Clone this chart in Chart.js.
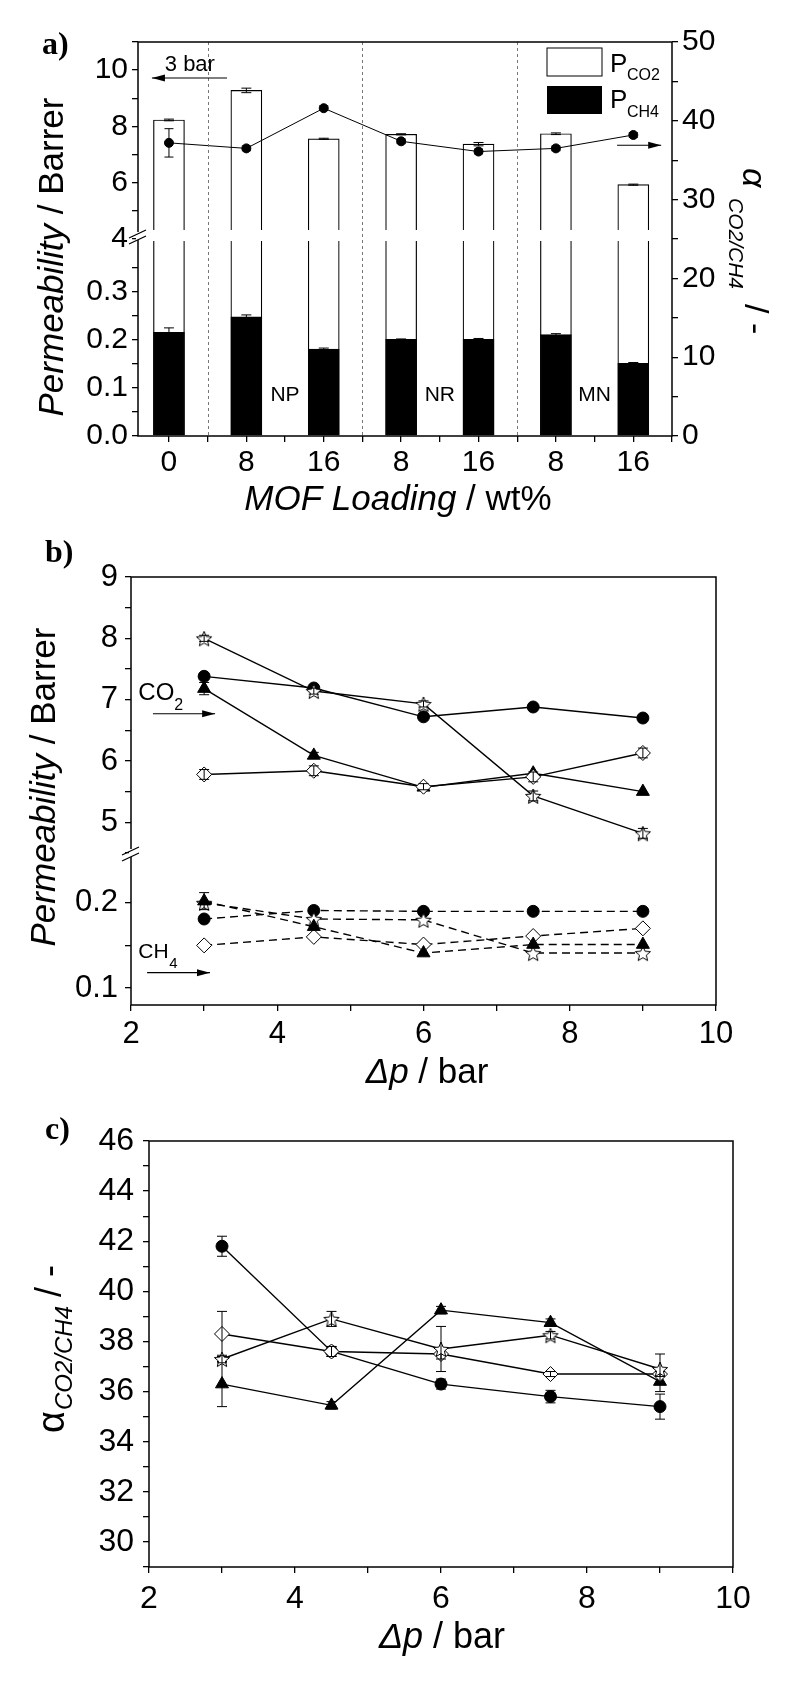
<!DOCTYPE html>
<html>
<head>
<meta charset="utf-8">
<script src="https://cdn.jsdelivr.net/npm/chart.js@4.4.1/dist/chart.umd.min.js"></script>
<style>
  html, body { margin: 0; padding: 0; background: #fff; }
  body { width: 800px; height: 1682px; position: relative; overflow: hidden; }
  canvas { position: absolute; left: 0; }
</style>
</head>
<body>
<canvas id="panelA" width="800" height="540" style="top:0px"></canvas>
<canvas id="panelB" width="800" height="560" style="top:540px"></canvas>
<canvas id="panelC" width="800" height="582" style="top:1100px"></canvas>
<script>
// ---- panel a: permeability bars at 3 bar + selectivity ----
const loadings = ['0', '8', '16', '8', '16', '8', '16'];
const fillerNames = ['NP', 'NR', 'MN'];
const fillerCentres = [2.5, 4.5, 6.5];
const dividers = [1.5, 3.5, 5.5];
const co2Perm = [8.23, 9.28, 7.56, 7.72, 7.37, 7.74, 5.93];
const co2Err = [0.03, 0.08, 0.02, 0.02, 0.06, 0.03, 0.02];
const ch4Perm = [0.216, 0.248, 0.181, 0.201, 0.201, 0.211, 0.151];
const ch4Err = [0.009, 0.004, 0.002, 0.001, 0.002, 0.002, 0.002];
const alphaA = [37.2, 36.5, 41.6, 37.4, 36.1, 36.5, 38.2];
const alphaAErr = [1.8, 0.3, 0.3, 0.3, 0.3, 0.3, 0.3];
const permTopLabels = [4, 6, 8, 10];
const permLowLabels = [0, 0.1, 0.2, 0.3];
const alphaLabels = [0, 10, 20, 30, 40, 50];

// ---- panel b: permeability vs feed pressure ----
const pressures = [3, 4.5, 6, 7.5, 9];
const co2Circle = [7.38, 7.19, 6.72, 6.88, 6.70];
const co2Triangle = [7.18, 6.09, 5.57, 5.80, 5.50];
const co2Diamond = [5.78, 5.84, 5.58, 5.74, 6.13];
const co2Star = [8.00, 7.14, 6.93, 5.43, 4.82];
const ch4Circle = [0.181, 0.191, 0.190, 0.190, 0.190];
const ch4Triangle = [0.202, 0.172, 0.141, 0.151, 0.151];
const ch4Diamond = [0.150, 0.160, 0.151, 0.161, 0.170];
const ch4Star = [0.200, 0.181, 0.180, 0.141, 0.141];
const co2TriangleErr = [0.1, 0.05, 0, 0, 0];
const co2DiamondErr = [0.08, 0.08, 0.05, 0.08, 0.08];
const co2StarErr = [0.05, 0.05, 0.05, 0.08, 0.08];
const ch4TriangleErr = [0.01, 0, 0, 0, 0];
const pressureLabels = [2, 4, 6, 8, 10];
const permBTopLabels = [5, 6, 7, 8, 9];
const permBLowLabels = [0.1, 0.2];

// ---- panel c: selectivity vs feed pressure ----
const selCircle = [41.8, 37.6, 36.3, 35.8, 35.4];
const selCircleErr = [0.4, 0.2, 0.2, 0.25, 0.5];
const selTriangle = [36.3, 35.45, 39.25, 38.75, 36.4];
const selTriangleErr = [0.9, 0.15, 0.15, 0.15, 0.4];
const selDiamond = [38.3, 37.6, 37.5, 36.7, 36.7];
const selDiamondErr = [0.9, 0.2, 0.2, 0.1, 0.1];
const selStar = [37.3, 38.9, 37.7, 38.25, 36.9];
const selStarErr = [0.15, 0.3, 0.9, 0.15, 0.6];
const selLabels = [30, 32, 34, 36, 38, 40, 42, 44, 46];

const SANS = '"Liberation Sans", Arial, Helvetica, sans-serif';
const SERIF = '"Liberation Serif", "Times New Roman", serif';
Chart.defaults.font.family = SANS;
Chart.defaults.color = '#000';

const pts = (xs, ys) => ys.map((v, i) => ({ x: xs[i], y: v }));
const isOneOf = (v, list) => list.some(l => Math.abs(l - v) < 1e-6);
const tickGrid = () => ({ drawOnChartArea: false, color: '#000', lineWidth: 1.3, tickLength: 6, offset: false });

function starImage(r) {
  const c = document.createElement('canvas');
  const s = Math.ceil(r * 2 + 4);
  c.width = s; c.height = s;
  const g = c.getContext('2d');
  g.translate(s / 2, s / 2 + 1);
  g.beginPath();
  for (let k = 0; k < 10; k++) {
    const rad = k % 2 ? r * 0.45 : r;
    const a = -Math.PI / 2 + k * Math.PI / 5;
    g.lineTo(rad * Math.cos(a), rad * Math.sin(a));
  }
  g.closePath();
  g.fillStyle = '#fff'; g.fill();
  g.strokeStyle = '#000'; g.lineWidth = 1; g.stroke();
  return c;
}
const STAR = starImage(8);

function putText(ctx, text, font, x, y, angle, align, baseline) {
  ctx.save();
  ctx.translate(x, y);
  if (angle) ctx.rotate(angle);
  ctx.font = font;
  ctx.fillStyle = '#000';
  ctx.textAlign = align || 'left';
  ctx.textBaseline = baseline || 'alphabetic';
  ctx.fillText(text, 0, 0);
  ctx.restore();
}

// pieces of text in a row, e.g. italic name + plain unit
function runText(ctx, parts, x, y, angle) {
  ctx.save();
  ctx.translate(x, y);
  if (angle) ctx.rotate(angle);
  ctx.fillStyle = '#000';
  ctx.textBaseline = 'alphabetic';
  let total = 0;
  parts.forEach(p => { ctx.font = p.font; total += ctx.measureText(p.text).width; });
  let pos = -total / 2;
  parts.forEach(p => {
    ctx.font = p.font;
    ctx.fillText(p.text, pos, p.dy || 0);
    pos += ctx.measureText(p.text).width;
  });
  ctx.restore();
}

function arrow(ctx, x1, y1, x2, y2) {
  ctx.save();
  ctx.strokeStyle = '#000'; ctx.fillStyle = '#000'; ctx.lineWidth = 1.2;
  ctx.beginPath(); ctx.moveTo(x1, y1); ctx.lineTo(x2, y2); ctx.stroke();
  const dir = Math.sign(x2 - x1);
  ctx.beginPath();
  ctx.moveTo(x2, y2);
  ctx.lineTo(x2 - dir * 13, y2 - 3.5);
  ctx.lineTo(x2 - dir * 13, y2 + 3.5);
  ctx.closePath(); ctx.fill();
  ctx.restore();
}

function frame(chart) {
  const { ctx, chartArea: a } = chart;
  ctx.save();
  ctx.strokeStyle = '#000'; ctx.lineWidth = 1.5;
  ctx.strokeRect(a.left, a.top, a.right - a.left, a.bottom - a.top);
  ctx.restore();
}

function axisBreak(ctx, x, y) {
  ctx.save();
  ctx.fillStyle = '#fff';
  ctx.fillRect(x - 2, y - 5, 4, 8);
  ctx.strokeStyle = '#000'; ctx.lineWidth = 1.3;
  ctx.beginPath();
  ctx.moveTo(x - 9, y + 1); ctx.lineTo(x + 8, y - 7);
  ctx.moveTo(x - 9, y + 7); ctx.lineTo(x + 8, y - 1);
  ctx.stroke();
  ctx.restore();
}

// clip each dataset to its own (stacked) y axis, then add error bars
const clipAndErrors = {
  id: 'clipAndErrors',
  beforeDatasetDraw(chart, args) {
    const { xScale, yScale } = args.meta;
    const ctx = chart.ctx;
    ctx.save();
    ctx.beginPath();
    ctx.rect(xScale.left, yScale.top, xScale.right - xScale.left, yScale.bottom - yScale.top);
    ctx.clip();
  },
  afterDatasetDraw(chart, args) {
    const ctx = chart.ctx;
    ctx.restore();
    const ds = chart.data.datasets[args.index];
    if (!ds.errors) return;
    const yScale = args.meta.yScale;
    const cap = ds.errorCap || 5;
    ctx.save();
    ctx.strokeStyle = '#000'; ctx.lineWidth = 1;
    args.meta.data.forEach((el, i) => {
      const e = ds.errors[i];
      if (!e) return;
      const raw = ds.data[i];
      const v = typeof raw === 'object' ? raw.y : raw;
      const top = yScale.getPixelForValue(v + e);
      const bot = yScale.getPixelForValue(v - e);
      ctx.beginPath();
      ctx.moveTo(el.x, top); ctx.lineTo(el.x, bot);
      ctx.moveTo(el.x - cap, top); ctx.lineTo(el.x + cap, top);
      ctx.moveTo(el.x - cap, bot); ctx.lineTo(el.x + cap, bot);
      ctx.stroke();
    });
    ctx.restore();
  }
};

const baseOptions = {
  responsive: false,
  animation: false,
  events: [],
  devicePixelRatio: 1,
  plugins: { legend: { display: false }, tooltip: { enabled: false } }
};

// ================= panel a =================
const xA = loadings.map((_, i) => i + 1);
const panelAExtras = {
  id: 'panelAExtras',
  afterDatasetsDraw(chart) {
    const { ctx, chartArea: a } = chart;
    const { x, yTop, yLow, yAlpha } = chart.scales;
    const cut = yTop.bottom;
    // gap in the bars at the axis break
    ctx.save();
    ctx.fillStyle = '#fff';
    ctx.fillRect(a.left + 1, cut - 9, a.right - a.left - 2, 11);
    // dashed dividers between filler groups
    ctx.strokeStyle = '#777'; ctx.lineWidth = 1; ctx.setLineDash([3, 3]);
    dividers.forEach(d => {
      const px = Math.round(x.getPixelForValue(d)) + 0.5;
      ctx.beginPath(); ctx.moveTo(px, a.top); ctx.lineTo(px, a.bottom); ctx.stroke();
    });
    ctx.restore();
    frame(chart);
    axisBreak(ctx, a.left, cut - 2);

    // legend
    ctx.save();
    ctx.strokeStyle = '#000'; ctx.lineWidth = 1;
    ctx.fillStyle = '#fff';
    ctx.fillRect(a.right - 125, a.top + 6, 55, 28);
    ctx.strokeRect(a.right - 125, a.top + 6, 55, 28);
    ctx.fillStyle = '#000';
    ctx.fillRect(a.right - 125, a.top + 44, 55, 28);
    ctx.restore();
    putText(ctx, 'P', '26px ' + SANS, a.right - 62, a.top + 30);
    putText(ctx, 'CO2', '16px ' + SANS, a.right - 45, a.top + 38);
    putText(ctx, 'P', '26px ' + SANS, a.right - 62, a.top + 66);
    putText(ctx, 'CH4', '16px ' + SANS, a.right - 45, a.top + 75);

    // annotations
    putText(ctx, '3 bar', '22px ' + SANS, x.getPixelForValue(1.27), yTop.getPixelForValue(9.97), 0, 'center');
    arrow(ctx, x.getPixelForValue(1.75), yTop.getPixelForValue(9.72), x.getPixelForValue(0.78), yTop.getPixelForValue(9.72));
    arrow(ctx, x.getPixelForValue(6.79), yAlpha.getPixelForValue(36.9), x.getPixelForValue(7.36), yAlpha.getPixelForValue(36.9));
    fillerNames.forEach((n, i) => {
      putText(ctx, n, '21px ' + SANS, x.getPixelForValue(fillerCentres[i]), yLow.getPixelForValue(0.085), 0, 'center', 'middle');
    });

    // titles
    putText(ctx, 'a)', 'bold 32px ' + SERIF, 42, 54);
    runText(ctx, [
      { text: 'Permeability', font: 'italic 35px ' + SANS },
      { text: ' / Barrer', font: '35px ' + SANS }
    ], 63, 257, -Math.PI / 2);
    runText(ctx, [
      { text: 'MOF Loading', font: 'italic 35px ' + SANS },
      { text: ' / wt%', font: '35px ' + SANS }
    ], 398, 510, 0);
    putText(ctx, 'α', 'italic 34px ' + SANS, 743, 168, Math.PI / 2);
    putText(ctx, 'CO2/CH4', 'italic 21px ' + SANS, 729, 198, Math.PI / 2);
    putText(ctx, '/ -', '34px ' + SANS, 745, 304, Math.PI / 2);
  }
};

new Chart(document.getElementById('panelA'), {
  type: 'bar',
  data: {
    datasets: [
      {
        type: 'line', label: 'α CO2/CH4', data: pts(xA, alphaA), errors: alphaAErr, errorCap: 4.5,
        yAxisID: 'yAlpha', borderColor: '#000', borderWidth: 1, tension: 0,
        pointRadius: 4.5, pointBackgroundColor: '#000', pointBorderColor: '#000'
      },
      {
        label: 'P CH4', data: pts(xA, ch4Perm), errors: ch4Err, errorCap: 5, yAxisID: 'yLow',
        backgroundColor: '#000', borderColor: '#000', borderWidth: 1, barThickness: 31, grouped: false
      },
      {
        label: 'P CO2', data: pts(xA, co2Perm), yAxisID: 'yLow',
        backgroundColor: '#fff', borderColor: '#000', borderWidth: 1.2, barThickness: 31, grouped: false,
        borderSkipped: 'start'
      },
      {
        label: 'P CO2', data: pts(xA, co2Perm), errors: co2Err, errorCap: 5, yAxisID: 'yTop',
        backgroundColor: '#fff', borderColor: '#000', borderWidth: 1.2, barThickness: 31, grouped: false,
        borderSkipped: 'start'
      }
    ]
  },
  options: {
    ...baseOptions,
    layout: { padding: { top: 42, left: 0, right: 0, bottom: 0 } },
    scales: {
      x: {
        type: 'linear', min: 0.6, max: 7.5, offset: false,
        grid: tickGrid(), border: { display: false },
        ticks: {
          stepSize: 0.5, autoSkip: false, maxRotation: 0, padding: 3, font: { size: 30 }, includeBounds: false,
          callback: v => Number.isInteger(v) ? loadings[v - 1] : ''
        },
        afterFit: s => { s.height = 104; }
      },
      // left-hand stacked axes are laid out bottom-up
      yLow: {
        type: 'linear', position: 'left', stack: 'perm', stackWeight: 1,
        min: 0, max: 0.41,
        grid: tickGrid(), border: { display: false },
        ticks: {
          stepSize: 0.05, autoSkip: false, padding: 4, font: { size: 30 }, includeBounds: false,
          callback: v => isOneOf(v, permLowLabels) ? v.toFixed(1) : ''
        },
        afterBuildTicks: s => { s.ticks = s.ticks.filter(t => t.value < 0.38); },
        afterFit: s => { s.width = 138; }
      },
      yTop: {
        type: 'linear', position: 'left', stack: 'perm', stackWeight: 1,
        min: 4, max: 11, beginAtZero: false,
        grid: tickGrid(), border: { display: false },
        ticks: {
          stepSize: 1, autoSkip: false, padding: 4, font: { size: 30 }, includeBounds: false,
          callback: v => isOneOf(v, permTopLabels) ? String(v) : ''
        },
        afterFit: s => { s.width = 138; }
      },
      yAlpha: {
        type: 'linear', position: 'right', min: 0, max: 50,
        grid: tickGrid(), border: { display: false },
        ticks: {
          stepSize: 5, autoSkip: false, padding: 4, font: { size: 30 },
          callback: v => isOneOf(v, alphaLabels) ? String(v) : ''
        },
        afterFit: s => { s.width = 128; }
      }
    }
  },
  plugins: [clipAndErrors, panelAExtras]
});

// ================= panels b and c: shared series styles =================
const markerStyles = {
  circle: { pointStyle: 'circle', pointRadius: 6, pointBackgroundColor: '#000' },
  triangle: { pointStyle: 'triangle', pointRadius: 7.5, pointBackgroundColor: '#000' },
  diamond: { pointStyle: 'rectRot', pointRadius: 7.5, pointBackgroundColor: '#fff' },
  star: { pointStyle: STAR, pointRadius: 8, pointBackgroundColor: '#fff' }
};

function series(label, values, errors, marker, yAxisID, dashed) {
  return {
    label, data: pts(pressures, values), errors, errorCap: 5, yAxisID,
    borderColor: '#000', borderWidth: 1.4, tension: 0,
    borderDash: dashed ? [8, 5] : [],
    pointBorderColor: '#000', pointBorderWidth: 1,
    ...markerStyles[marker]
  };
}

function pressureAxis(height, pad, size) {
  return {
    type: 'linear', min: 2, max: 10,
    grid: tickGrid(), border: { display: false },
    ticks: {
      stepSize: 1, autoSkip: false, maxRotation: 0, padding: pad, font: { size },
      callback: v => isOneOf(v, pressureLabels) ? String(v) : ''
    },
    afterFit: s => { s.height = height; }
  };
}

// ================= panel b =================
const panelBExtras = {
  id: 'panelBExtras',
  afterDatasetsDraw(chart) {
    const { ctx, chartArea: a } = chart;
    const { x, yTop, yLow } = chart.scales;
    frame(chart);
    axisBreak(ctx, a.left, yTop.bottom - 2);

    putText(ctx, 'CO', '24px ' + SANS, x.getPixelForValue(2.1), yTop.getPixelForValue(6.99));
    putText(ctx, '2', '16px ' + SANS, x.getPixelForValue(2.1) + 36, yTop.getPixelForValue(6.99) + 10);
    arrow(ctx, x.getPixelForValue(2.3), yTop.getPixelForValue(6.77), x.getPixelForValue(3.15), yTop.getPixelForValue(6.77));
    putText(ctx, 'CH', '21px ' + SANS, x.getPixelForValue(2.1), yLow.getPixelForValue(0.135));
    putText(ctx, '4', '15px ' + SANS, x.getPixelForValue(2.1) + 31, yLow.getPixelForValue(0.135) + 10);
    arrow(ctx, x.getPixelForValue(2.22), yLow.getPixelForValue(0.118), x.getPixelForValue(3.08), yLow.getPixelForValue(0.118));

    putText(ctx, 'b)', 'bold 32px ' + SERIF, 45, 22);
    runText(ctx, [
      { text: 'Permeability', font: 'italic 35px ' + SANS },
      { text: ' / Barrer', font: '35px ' + SANS }
    ], 55, 247, -Math.PI / 2);
    runText(ctx, [
      { text: 'Δp', font: 'italic 35px ' + SANS },
      { text: ' / bar', font: '35px ' + SANS }
    ], 427, 543, 0);
  }
};

new Chart(document.getElementById('panelB'), {
  type: 'line',
  data: {
    datasets: [
      series('CO2 ☆', co2Star, co2StarErr, 'star', 'yTop', false),
      series('CO2 ◇', co2Diamond, co2DiamondErr, 'diamond', 'yTop', false),
      series('CO2 ▲', co2Triangle, co2TriangleErr, 'triangle', 'yTop', false),
      series('CO2 ●', co2Circle, null, 'circle', 'yTop', false),
      series('CH4 ▲', ch4Triangle, ch4TriangleErr, 'triangle', 'yLow', true),
      series('CH4 ◇', ch4Diamond, null, 'diamond', 'yLow', true),
      series('CH4 ☆', ch4Star, null, 'star', 'yLow', true),
      series('CH4 ●', ch4Circle, null, 'circle', 'yLow', true)
    ]
  },
  options: {
    ...baseOptions,
    layout: { padding: { top: 37, left: 0, right: 84, bottom: 0 } },
    scales: {
      x: pressureAxis(95, 5, 31),
      yLow: {
        type: 'linear', position: 'left', stack: 'perm', stackWeight: 149,
        min: 0.08, max: 0.255,
        grid: tickGrid(), border: { display: false },
        ticks: {
          stepSize: 0.05, autoSkip: false, padding: 7, font: { size: 31 }, includeBounds: false,
          callback: v => isOneOf(v, permBLowLabels) ? v.toFixed(1) : ''
        },
        afterBuildTicks: s => { s.ticks = s.ticks.filter(t => t.value < 0.24); },
        afterFit: s => { s.width = 131; }
      },
      yTop: {
        type: 'linear', position: 'left', stack: 'perm', stackWeight: 279,
        min: 4.45, max: 9,
        grid: tickGrid(), border: { display: false },
        ticks: {
          stepSize: 0.5, autoSkip: false, padding: 7, font: { size: 31 }, includeBounds: false,
          callback: v => isOneOf(v, permBTopLabels) ? String(v) : ''
        },
        afterFit: s => { s.width = 131; }
      }
    }
  },
  plugins: [clipAndErrors, panelBExtras]
});

// ================= panel c =================
const panelCExtras = {
  id: 'panelCExtras',
  afterDatasetsDraw(chart) {
    const { ctx } = chart;
    frame(chart);
    putText(ctx, 'c)', 'bold 32px ' + SERIF, 45, 39);
    putText(ctx, 'α', '38px ' + SANS, 64, 333, -Math.PI / 2);
    putText(ctx, 'CO2/CH4', 'italic 24px ' + SANS, 72, 310, -Math.PI / 2);
    putText(ctx, '/ -', '36px ' + SANS, 61, 197, -Math.PI / 2);
    runText(ctx, [
      { text: 'Δp', font: 'italic 36px ' + SANS },
      { text: ' / bar', font: '36px ' + SANS }
    ], 442, 548, 0);
  }
};

new Chart(document.getElementById('panelC'), {
  type: 'line',
  data: {
    datasets: [
      series('☆', selStar, selStarErr, 'star', 'y', false),
      series('◇', selDiamond, selDiamondErr, 'diamond', 'y', false),
      series('▲', selTriangle, selTriangleErr, 'triangle', 'y', false),
      series('●', selCircle, selCircleErr, 'circle', 'y', false)
    ]
  },
  options: {
    ...baseOptions,
    layout: { padding: { top: 41, left: 0, right: 67, bottom: 0 } },
    scales: {
      x: pressureAxis(115, 7, 32),
      y: {
        type: 'linear', position: 'left', min: 29, max: 46,
        grid: tickGrid(), border: { display: false },
        ticks: {
          stepSize: 1, autoSkip: false, padding: 9, font: { size: 32 },
          callback: v => isOneOf(v, selLabels) ? String(v) : ''
        },
        afterFit: s => { s.width = 149; }
      }
    }
  },
  plugins: [clipAndErrors, panelCExtras]
});
</script>
</body>
</html>
